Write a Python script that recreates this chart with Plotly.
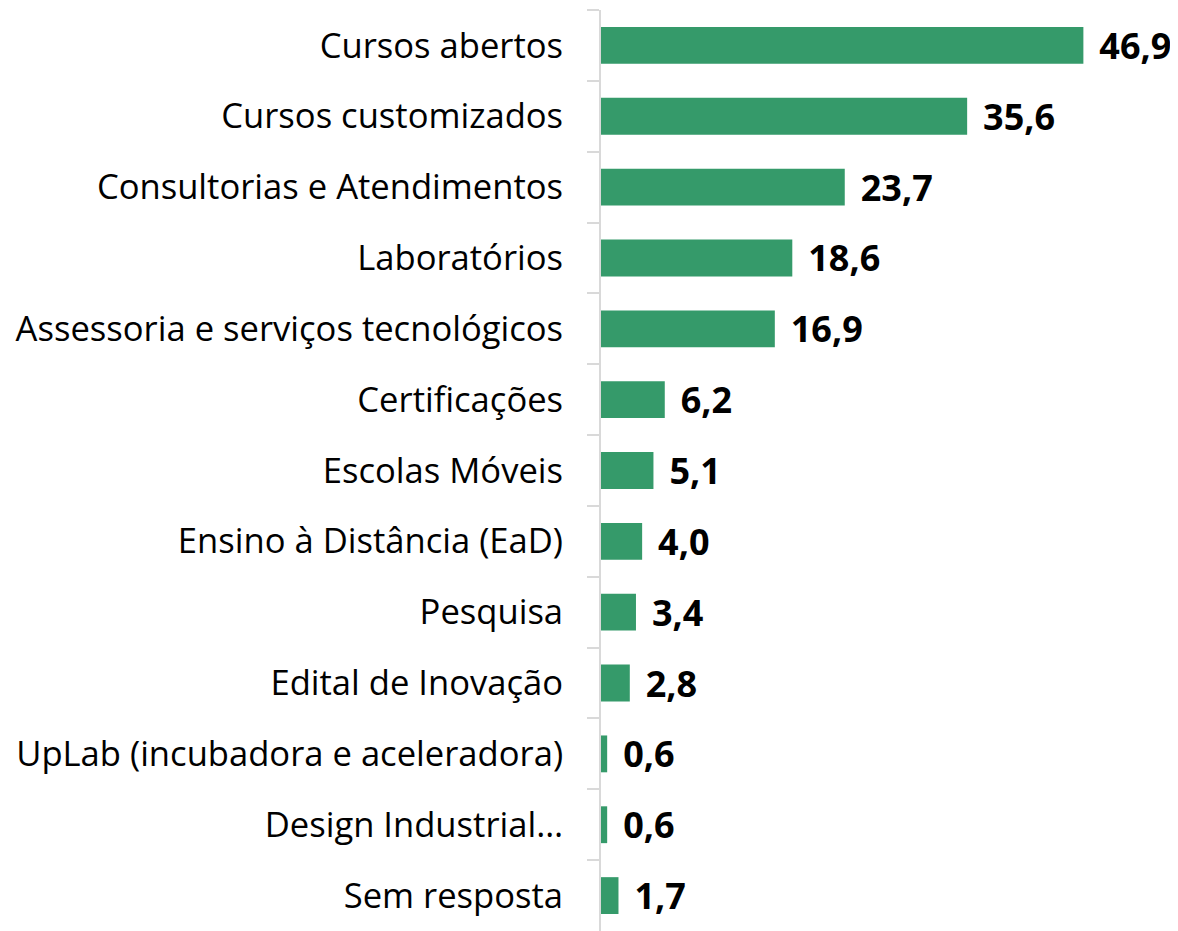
import plotly.graph_objects as go

categories = [
    "Cursos abertos",
    "Cursos customizados",
    "Consultorias e Atendimentos",
    "Laboratórios",
    "Assessoria e serviços tecnológicos",
    "Certificações",
    "Escolas Móveis",
    "Ensino à Distância (EaD)",
    "Pesquisa",
    "Edital de Inovação",
    "UpLab (incubadora e aceleradora)",
    "Design Industrial…",
    "Sem resposta",
]
values = [46.9, 35.6, 23.7, 18.6, 16.9, 6.2, 5.1, 4.0, 3.4, 2.8, 0.6, 0.6, 1.7]

fig = go.Figure()

fig.add_trace(go.Bar(
    x=values,
    y=categories,
    orientation="h",
    marker=dict(color="#359a6a", line=dict(width=0)),
    texttemplate=" \u200a%{x:.1f}",
    textposition="outside",
    constraintext="none",
    textfont=dict(family="Open Sans", size=36, color="#000000", weight="bold"),
    cliponaxis=False,
))

fig.update_layout(
    width=1170,
    height=923,
    separators=",.",
    paper_bgcolor="white",
    plot_bgcolor="white",
    font=dict(family="Open Sans", size=34.6, color="#000000"),
    margin=dict(l=593, r=0, t=2, b=0),
    bargap=0.48,
    showlegend=False,
)
fig.update_xaxes(range=[0, 56.1], visible=False)
fig.update_yaxes(
    autorange="reversed",
    showline=True,
    linecolor="#d9d9d9",
    linewidth=2,
    ticks="outside",
    tickson="boundaries",
    ticklen=12,
    tickcolor="#d9d9d9",
    tickwidth=2,
    ticklabelstandoff=29,
    showgrid=False,
)

fig.write_html("out.html")
